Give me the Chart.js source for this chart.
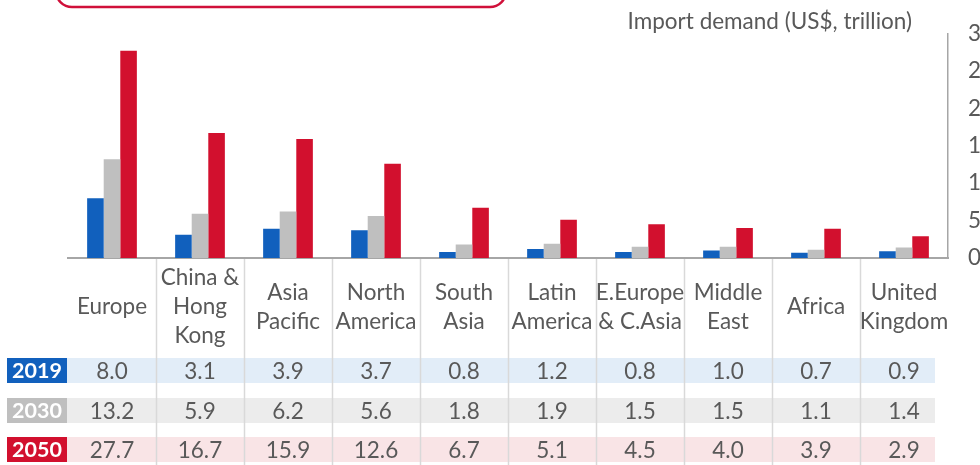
<!DOCTYPE html>
<html>
<head>
<meta charset="utf-8">
<script src="https://cdn.jsdelivr.net/npm/chart.js@4"></script>
<style>
  html, body { margin: 0; padding: 0; background: #ffffff; overflow: hidden; }
  #wrap { width: 1000px; height: 465px; position: relative; }
</style>
</head>
<body>
<div id="wrap"><canvas id="c" width="1000" height="465"></canvas></div>
<script>
// Regions (one column each) and their wrapped label lines
const regions = [
  ['Europe'],
  ['China &', 'Hong', 'Kong'],
  ['Asia', 'Pacific'],
  ['North', 'America'],
  ['South', 'Asia'],
  ['Latin', 'America'],
  ['E.Europe', '& C.Asia'],
  ['Middle', 'East'],
  ['Africa'],
  ['United', 'Kingdom']
];
const years = ['2019', '2030', '2050'];
// Import demand, US$ trillion
const demand2019 = [8.0, 3.1, 3.9, 3.7, 0.8, 1.2, 0.8, 1.0, 0.7, 0.9];
const demand2030 = [13.2, 5.9, 6.2, 5.6, 1.8, 1.9, 1.5, 1.5, 1.1, 1.4];
const demand2050 = [27.7, 16.7, 15.9, 12.6, 6.7, 5.1, 4.5, 4.0, 3.9, 2.9];
const axisTitle = 'Import demand (US$, trillion)';
const yMax = 30;
const yStep = 5;

const FONT = 'Lato, "Open Sans", sans-serif';
const TEXT = '#595959';
const FS = 22.5;
const seriesColors = ['#1160bd', '#bfbfbf', '#d2102e'];
const bandColors = ['#e2edf8', '#ececec', '#f9e4e6'];
const seriesValues = [demand2019, demand2030, demand2050];

// Draws the header box, axis title, region labels and the value table
const tablePlugin = {
  id: 'tablePlugin',
  afterDraw(chart) {
    const ctx = chart.ctx;
    const x = chart.scales.x;
    const area = chart.chartArea;
    const n = regions.length;
    const colW = (area.right - area.left) / n;
    ctx.save();

    // header box
    ctx.beginPath();
    ctx.roundRect(56, -30, 450, 37, 16);
    ctx.lineWidth = 2.5;
    ctx.strokeStyle = '#d0103a';
    ctx.stroke();

    // axis title
    ctx.font = FS + 'px ' + FONT;
    ctx.fillStyle = TEXT;
    ctx.textAlign = 'right';
    ctx.textBaseline = 'middle';
    ctx.fillText(axisTitle, 912, 22);

    // row bands and year tags
    const rowTop = [358, 398, 437];
    const rowH = 25;
    for (let r = 0; r < years.length; r++) {
      ctx.fillStyle = bandColors[r];
      ctx.fillRect(67, rowTop[r], 868, rowH);
      ctx.fillStyle = seriesColors[r];
      ctx.fillRect(7, rowTop[r], 60, rowH);
      ctx.fillStyle = '#ffffff';
      ctx.font = 'bold 21.5px ' + FONT;
      ctx.textAlign = 'center';
      ctx.fillText(years[r], 37, rowTop[r] + rowH / 2 + 1);
    }

    // column separators
    ctx.strokeStyle = '#d9d9d9';
    ctx.lineWidth = 1.5;
    for (let i = 1; i < n; i++) {
      const bx = Math.round(x.getPixelForValue(i) - colW / 2) + 0.5;
      ctx.beginPath();
      ctx.moveTo(bx, area.bottom + 1);
      ctx.lineTo(bx, 465);
      ctx.stroke();
    }

    // region labels, centred vertically in their block
    ctx.font = FS + 'px ' + FONT;
    ctx.fillStyle = TEXT;
    ctx.textAlign = 'center';
    const lineH = 29;
    const labelMid = 307;
    for (let i = 0; i < n; i++) {
      const cx = x.getPixelForValue(i);
      const lines = regions[i];
      const y0 = labelMid - (lines.length - 1) * lineH / 2;
      lines.forEach((t, k) => ctx.fillText(t, cx, y0 + k * lineH));
    }

    // values
    for (let r = 0; r < years.length; r++) {
      for (let i = 0; i < n; i++) {
        const cx = x.getPixelForValue(i);
        ctx.fillText(seriesValues[r][i].toFixed(1), cx, rowTop[r] + rowH / 2 + 1);
      }
    }
    ctx.restore();
  }
};

new Chart(document.getElementById('c'), {
  type: 'bar',
  data: {
    labels: regions.map(r => r.join(' ')),
    datasets: years.map((y, k) => ({
      label: y,
      data: seriesValues[k],
      backgroundColor: seriesColors[k],
      borderWidth: 0,
      categoryPercentage: 0.565,
      barPercentage: 1.0
    }))
  },
  options: {
    responsive: false,
    animation: false,
    layout: { padding: { left: 68, top: 33, right: 0, bottom: 0 } },
    plugins: { legend: { display: false }, tooltip: { enabled: false }, title: { display: false } },
    scales: {
      x: {
        ticks: { display: false },
        grid: { display: false },
        border: { display: true, color: '#a6a6a6', width: 2 },
        afterFit(s) { s.height = 465 - 258; }
      },
      y: {
        position: 'right',
        min: 0,
        max: yMax,
        ticks: { stepSize: yStep, padding: 20, color: TEXT, font: { family: FONT, size: FS } },
        grid: { display: false, drawTicks: false },
        border: { display: true, color: '#a6a6a6', width: 1.5 },
        afterFit(s) { s.width = 52; }
      }
    }
  },
  plugins: [tablePlugin]
});
</script>
</body>
</html>
